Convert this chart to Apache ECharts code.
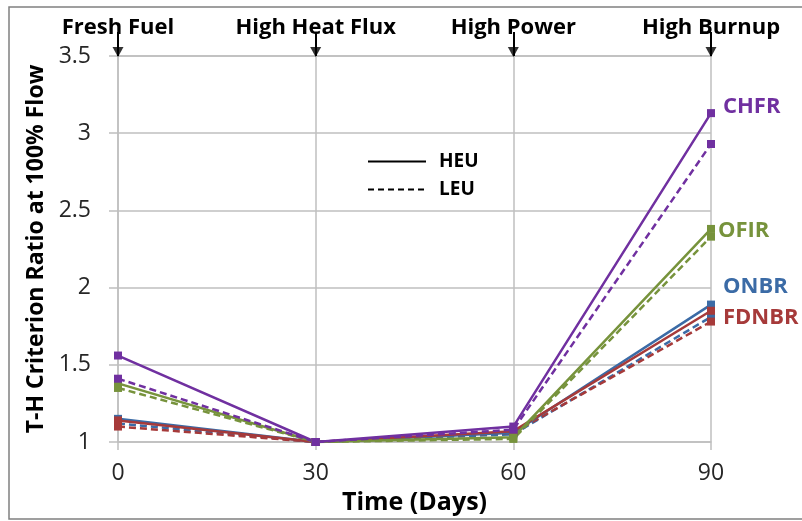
<!DOCTYPE html>
<html>
<head>
<meta charset="utf-8">
<script src="https://cdn.jsdelivr.net/npm/echarts@6/dist/echarts.min.js"></script>
<style>
  html, body { margin: 0; padding: 0; background: #fff; }
  #chart { width: 802px; height: 521px; }
</style>
</head>
<body>
<div id="chart"></div>
<script>
// time points and stage names along the top
const days = [0, 30, 60, 90]
const stages = ['Fresh Fuel', 'High Heat Flux', 'High Power', 'High Burnup']
const yTicks = [1, 3.5, 0.5] // min, max, step

// criterion ratios, HEU solid / LEU dashed
const heuCHFR = [1.56, 1.0, 1.10, 3.13]
const leuCHFR = [1.41, 1.0, 1.08, 2.93]
const heuOFIR = [1.38, 1.0, 1.03, 2.38]
const leuOFIR = [1.35, 1.0, 1.02, 2.33]
const heuONBR = [1.15, 1.0, 1.06, 1.89]
const leuONBR = [1.12, 1.0, 1.05, 1.81]
const heuFDNBR = [1.14, 1.0, 1.07, 1.85]
const leuFDNBR = [1.10, 1.0, 1.06, 1.78]

const font = 'Open Sans'
const colors = { CHFR: '#7030A0', OFIR: '#77933C', ONBR: '#3B6BA6', FDNBR: '#A63A3A' }

function pairs (vals) {
  return vals.map((v, i) => [days[i], v])
}

function ratioSeries (name, vals, dashed, label) {
  const s = {
    name: dashed ? name + ' LEU' : name + ' HEU',
    type: 'line',
    data: pairs(vals),
    symbol: 'rect',
    symbolSize: 8,
    showSymbol: true,
    color: colors[name],
    lineStyle: { width: 2.5, type: dashed ? [7, 4] : 'solid', color: colors[name] },
    itemStyle: { color: colors[name] },
    animation: false
  }
  if (label) {
    s.endLabel = {
      show: true,
      formatter: name,
      color: colors[name],
      fontFamily: font,
      fontWeight: 'bold',
      fontSize: 22,
      distance: 0,
      offset: label
    }
  }
  return s
}

const chart = echarts.init(document.getElementById('chart'))

const option = {
  backgroundColor: '#fff',
  textStyle: { fontFamily: font },
  grid: { left: 118, right: 91, top: 56, bottom: 79 },
  legend: {
    data: ['HEU', 'LEU'],
    orient: 'vertical',
    left: 362,
    top: 147,
    itemWidth: 58,
    itemHeight: 12,
    itemGap: 9,
    textStyle: { fontFamily: font, fontWeight: 'bold', fontSize: 19, color: '#000', padding: [0, 0, 0, 8] },
    selectedMode: false
  },
  graphic: [{
    type: 'rect',
    shape: { x: 9, y: 7, width: 800, height: 512 },
    style: { fill: 'none', stroke: '#808080', lineWidth: 1.5 },
    silent: true
  }],
  xAxis: [
    {
      type: 'value',
      min: days[0],
      max: days[days.length - 1],
      interval: 30,
      name: 'Time (Days)',
      nameLocation: 'middle',
      nameGap: 42,
      nameTextStyle: { fontFamily: font, fontWeight: 'bold', fontSize: 25, color: '#000' },
      axisLine: { show: true, lineStyle: { color: '#bfbfbf', width: 1.5 } },
      axisTick: { show: true, length: 8, lineStyle: { color: '#bfbfbf', width: 1.5 } },
      axisLabel: { fontSize: 23, color: '#262626', margin: 20 },
      splitLine: { show: true, lineStyle: { color: '#bfbfbf', width: 1.5 } }
    },
    {
      type: 'value',
      position: 'top',
      min: days[0],
      max: days[days.length - 1],
      interval: 30,
      axisLine: { show: true, lineStyle: { color: '#bfbfbf', width: 1.5 } },
      axisTick: { show: true, length: 24, lineStyle: { color: '#000', width: 2 } },
      axisLabel: {
        fontWeight: 'bold',
        fontSize: 22,
        color: '#000',
        margin: 17,
        formatter: v => stages[days.indexOf(v)]
      },
      splitLine: { show: false }
    }
  ],
  yAxis: {
    type: 'value',
    min: yTicks[0],
    max: yTicks[1],
    interval: yTicks[2],
    name: 'T-H Criterion Ratio at 100% Flow',
    nameLocation: 'middle',
    nameGap: 67,
    nameTextStyle: { fontFamily: font, fontWeight: 'bold', fontSize: 23, color: '#000' },
    axisLine: { show: true, lineStyle: { color: '#bfbfbf', width: 1.5 } },
    axisTick: { show: true, length: 9, lineStyle: { color: '#bfbfbf', width: 1.5 } },
    axisLabel: { fontSize: 23, color: '#262626', margin: 27 },
    splitLine: { show: true, lineStyle: { color: '#bfbfbf', width: 1.5 } }
  },
  series: [
    { name: 'HEU', type: 'line', data: [], symbol: 'none', color: '#000', itemStyle: { opacity: 0 }, lineStyle: { color: '#000', width: 2.5 } },
    { name: 'LEU', type: 'line', data: [], symbol: 'none', color: '#000', itemStyle: { opacity: 0 }, lineStyle: { color: '#000', width: 2.5, type: [6, 4] } },
    ratioSeries('ONBR', leuONBR, true),
    ratioSeries('FDNBR', leuFDNBR, true),
    ratioSeries('ONBR', heuONBR, false, [12, -18]),
    ratioSeries('FDNBR', heuFDNBR, false, [12, 7]),
    ratioSeries('OFIR', leuOFIR, true),
    ratioSeries('OFIR', heuOFIR, false, [7, 2]),
    ratioSeries('CHFR', leuCHFR, true),
    ratioSeries('CHFR', heuCHFR, false, [12, -6]),
    {
      name: 'arrows',
      type: 'scatter',
      data: days.map(d => [d, yTicks[1]]),
      symbol: 'triangle',
      symbolRotate: 180,
      symbolSize: [11, 10],
      symbolOffset: [0, -4],
      itemStyle: { color: '#000' },
      silent: true,
      z: 5,
      animation: false
    }
  ]
}

option && chart.setOption(option)
</script>
</body>
</html>
